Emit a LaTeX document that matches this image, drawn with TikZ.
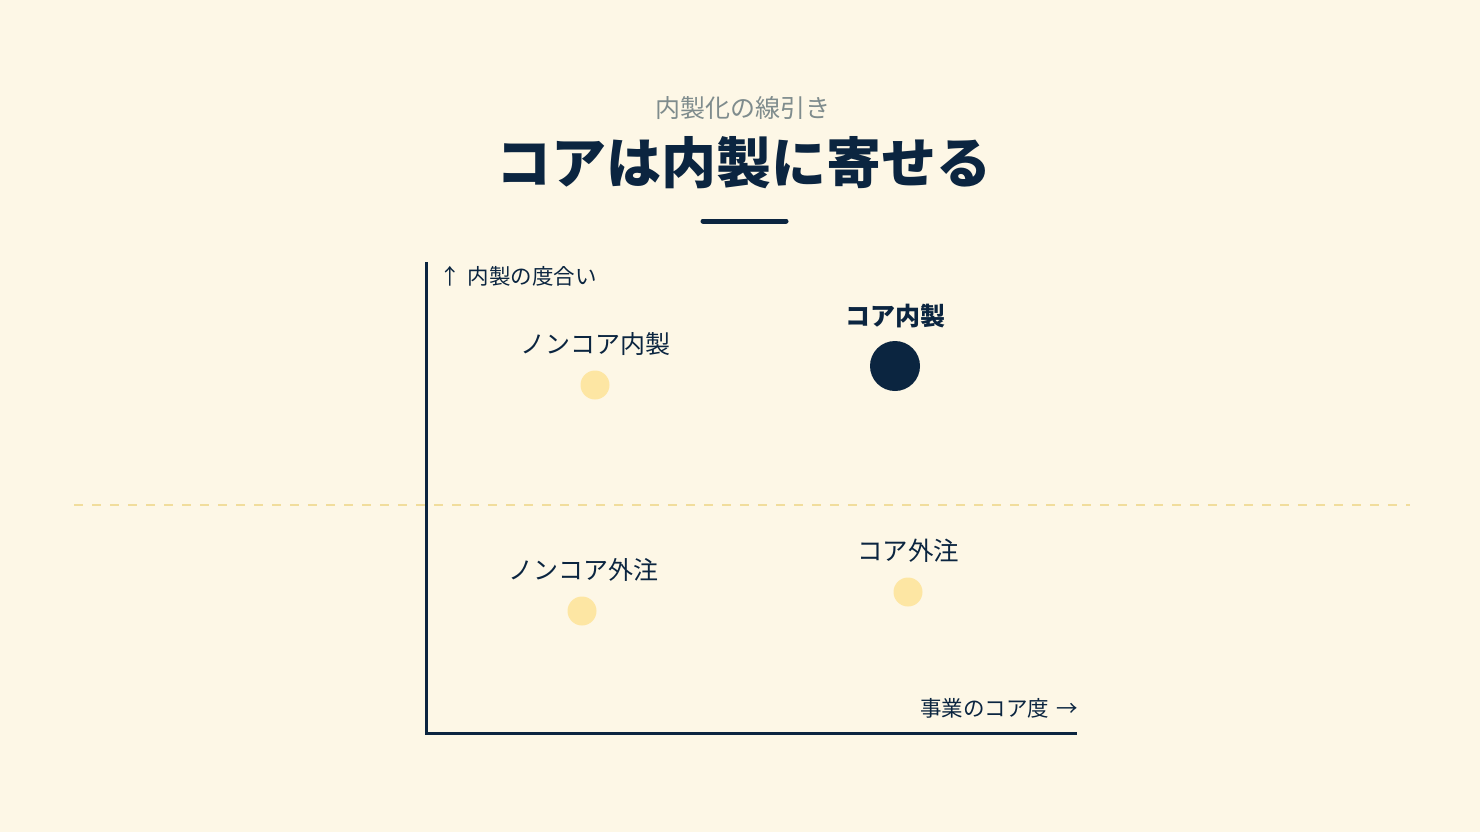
\documentclass[tikz,border=0pt]{standalone}
\usepackage{fontspec}
\setmainfont{Noto Sans CJK JP}
\definecolor{bgc}{HTML}{FDF7E6}
\definecolor{navy}{HTML}{0B2540}
\definecolor{dotc}{HTML}{FDE6A3}
\definecolor{dashc}{HTML}{F1DD9C}
\definecolor{subc}{HTML}{7F8C8D}
\tikzset{
  lbl/.style={text=navy, font=\fontsize{25}{30}\selectfont, inner sep=0pt},
  axlbl/.style={text=navy, font=\fontsize{21.5}{26}\selectfont, inner sep=0pt},
  dotsmall/.style={circle, fill=dotc, minimum size=29pt, inner sep=0pt},
  dotbig/.style={circle, fill=navy, minimum size=50pt, inner sep=0pt},
  axis/.style={draw=navy, line width=3pt},
}
\begin{document}
\begin{tikzpicture}[x=1pt,y=-1pt]
\fill[bgc] (0,0) rectangle (1480,832);
\useasboundingbox (0,0) rectangle (1480,832);
% header
\node[text=subc, font=\fontsize{25}{30}\selectfont, inner sep=0pt] (sub) at (743,108) {内製化の線引き};
\node[text=navy, font=\bfseries\fontsize{55}{60}\selectfont, inner sep=0pt] (title) at (744,163) {コアは内製に寄せる};
\coordinate (ul1) at (703,221);
\coordinate (ul2) at (786,221);
\draw[navy, line width=5pt, line cap=round] (ul1) -- (ul2);
% dashed divider
\coordinate (d1) at (74,505);
\coordinate (d2) at (1410,505);
\draw[dashc, line width=2.5pt, dash pattern=on 9pt off 9pt] (d1) -- (d2);
% axes
\coordinate (ytop) at (426,262);
\coordinate (orig) at (426,733);
\coordinate (xend) at (1077,733);
\draw[axis] (ytop) -- (orig) -- (xend);
\node[axlbl, anchor=west] (ylab) at (439,276) {↑\,\,内製の度合い};
\node[axlbl, anchor=east] (xlab) at (1078,708) {事業のコア度\,\,→};
% points
\node[lbl] (l1) at (595,344) {ノンコア内製};
\node[dotsmall] (p1) at (595,385) {};
\node[lbl, font=\bfseries\fontsize{25}{30}\selectfont] (l2) at (895,316) {コア内製};
\node[dotbig] (p2) at (895,366) {};
\node[lbl] (l3) at (583,570) {ノンコア外注};
\node[dotsmall] (p3) at (582,611) {};
\node[lbl, font=\fontsize{25.5}{30}\selectfont] (l4) at (908,551) {コア外注};
\node[dotsmall] (p4) at (908,592) {};
\end{tikzpicture}
\end{document}
